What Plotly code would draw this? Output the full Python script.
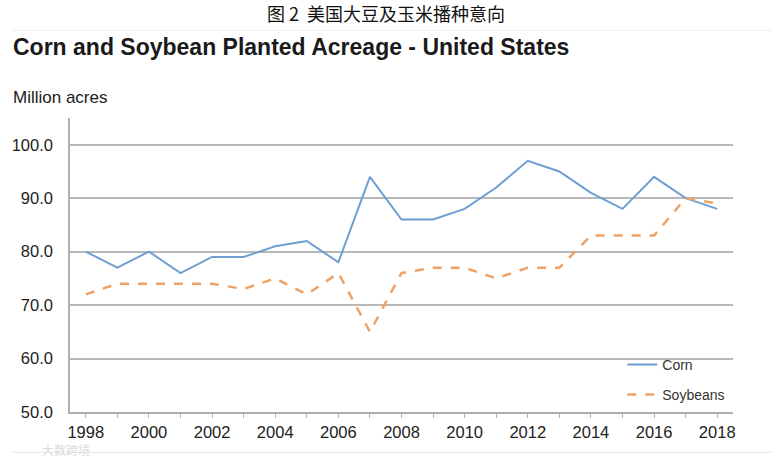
import plotly.graph_objects as go

years = list(range(1998, 2019))
corn = [80, 77, 80, 76, 79, 79, 81, 82, 78, 94, 86, 86, 88, 92, 97, 95, 91, 88, 94, 90, 88]
soybeans = [72, 74, 74, 74, 74, 73, 75, 72, 76, 65, 76, 77, 77, 75, 77, 77, 83, 83, 83, 90, 89]
y_ticks = [50, 60, 70, 80, 90, 100]
x_tick_labels = list(range(1998, 2019, 2))

fig = go.Figure()
fig.add_trace(go.Scatter(x=years, y=corn, mode="lines", name="Corn", legendgroup="a",
                         line=dict(color="#6f9fd2", width=2)))
fig.add_trace(go.Scatter(x=years, y=soybeans, mode="lines", name="Soybeans", legendgroup="b",
                         line=dict(color="#f0a264", width=2.5, dash="dash")))

fig.update_layout(
    width=772, height=459,
    margin=dict(l=67, r=39, t=118, b=47),
    paper_bgcolor="white", plot_bgcolor="white",
    font=dict(family="Liberation Sans, Arial", color="#222222", size=16),
    showlegend=True,
    legend=dict(x=0.833, y=0.215, xanchor="left", yanchor="top",
                bgcolor="rgba(0,0,0,0)", font=dict(size=14, color="#333333"),
                tracegroupgap=9),
    xaxis=dict(range=[1997.5, 2018.5], tickmode="array", tickvals=years,
               ticktext=[str(y) if y in x_tick_labels else "" for y in years],
               showgrid=False, showline=True, linecolor="#b0b0b0", linewidth=1.5,
               ticks="outside", ticklen=4, tickcolor="#b0b0b0",
               tickfont=dict(size=16.5, color="#222222"), zeroline=False),
    yaxis=dict(range=[50, 105], tickvals=y_ticks, tickformat=".1f",
               showgrid=True, gridcolor="#b8b8b8", gridwidth=1.5,
               showline=True, linecolor="#b0b0b0", linewidth=1.5,
               ticks="", ticklabelstandoff=12,
               tickfont=dict(size=16.5, color="#222222"), zeroline=False),
)

fig.add_annotation(text="图 2  美国大豆及玉米播种意向", xref="paper", yref="paper",
                   x=0.5, y=1, xanchor="center", yanchor="middle",
                   xshift=-16, yshift=105, showarrow=False,
                   font=dict(family="Noto Sans CJK SC", size=18, color="#111111"))
fig.add_annotation(text="<b>Corn and Soybean Planted Acreage - United States</b>",
                   xref="paper", yref="paper", x=0, y=1, xanchor="left", yanchor="middle",
                   xshift=-59, yshift=71, showarrow=False,
                   font=dict(family="Liberation Sans, Arial", size=23, color="#1a1a1a"))
fig.add_annotation(text="Million acres", xref="paper", yref="paper", x=0, y=1,
                   xanchor="left", yanchor="middle", xshift=-59, yshift=21, showarrow=False,
                   font=dict(family="Liberation Sans, Arial", size=17, color="#1a1a1a"))
fig.add_annotation(text="大数跨境", xref="paper", yref="paper", x=0, y=0,
                   xanchor="left", yanchor="middle", xshift=-30, yshift=-37, showarrow=False,
                   font=dict(family="Noto Sans CJK SC", size=12, color="#dcdcdc"))

fig.add_shape(type="line", xref="paper", yref="paper", x0=-0.087, x1=1.06, y0=1.298, y1=1.298,
              line=dict(color="#eeeeee", width=1))
fig.add_shape(type="line", xref="paper", yref="paper", x0=-0.087, x1=1.06, y0=-0.137, y1=-0.137,
              line=dict(color="#e6e6e6", width=1))

fig.write_html("out.html", config={"displayModeBar": False},
               post_script="document.body.style.margin='0';")
